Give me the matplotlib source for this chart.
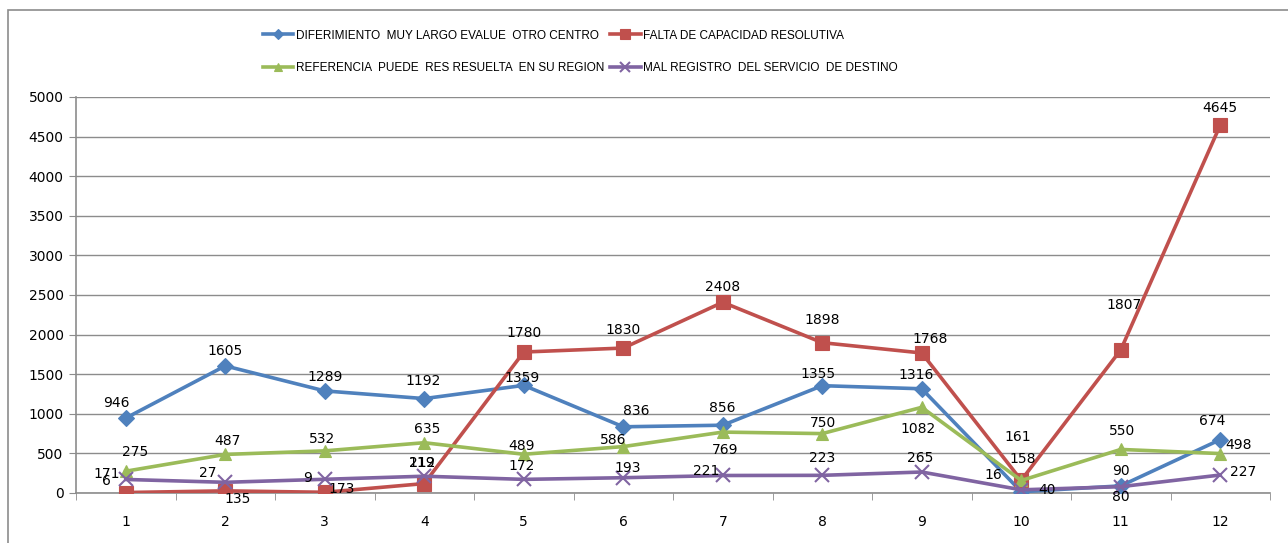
import numpy as np
import matplotlib
matplotlib.use('Agg')
import matplotlib.pyplot as plt
from matplotlib.patches import Rectangle

months = list(range(1, 13))

diferimiento = [946, 1605, 1289, 1192, 1359, 836, 856, 1355, 1316, 16, 90, 674]
falta_capacidad = [6, 27, 9, 119, 1780, 1830, 2408, 1898, 1768, 161, 1807, 4645]
referencia = [275, 487, 532, 635, 489, 586, 769, 750, 1082, 158, 550, 498]
mal_registro = [171, 135, 173, 212, 172, 193, 221, 223, 265, 40, 80, 227]

names = ['DIFERIMIENTO  MUY LARGO EVALUE  OTRO CENTRO',
         'FALTA DE CAPACIDAD RESOLUTIVA',
         'REFERENCIA  PUEDE  RES RESUELTA  EN SU REGION',
         'MAL REGISTRO  DEL SERVICIO  DE DESTINO']

# label offsets in pixels (dx, dy up)
offs = {
    0: [(-9, 15), (0, 15), (0, 14), (-1, 18), (-2, 7), (13, 16), (0, 17), (-4, 12), (-6, 14), (-28, 17), (0, 15), (-8, 19)],
    1: [(-19, 12), (-17, 18), (-17, 14), (-2, 21), (0, 19), (0, 18), (0, 15), (0, 23), (8, 14), (-3, 43), (3, 45), (0, 17)],
    2: [(9, 19), (2, 13), (-3, 12), (3, 14), (-2, 8), (-10, 7), (2, -18), (1, 11), (-4, -22), (1, 21), (1, 18), (18, 9)],
    3: [(-19, 5), (12, -17), (17, -10), (-2, 13), (-2, 13), (4, 10), (-17, 4), (0, 17), (-2, 14), (26, 0), (0, -10), (23, 3)],
}

colors = ['#4F81BD', '#C0504D', '#9BBB59', '#8064A2']
markers = ['D', 's', '^', 'x']
msizes = [8, 10, 9, 10]

fig = plt.figure(figsize=(12.88, 5.43), dpi=100)
ax = fig.add_axes([76 / 1288, 50 / 543, 1194 / 1288, 396 / 543])

fig.patches.append(Rectangle((8 / 1288, -0.1), 1.2, 0.1 + 533 / 543, transform=fig.transFigure,
                             fill=False, edgecolor='#8c8c8c', linewidth=1.2))

series = [diferimiento, falta_capacidad, referencia, mal_registro]
lines = []
for k, vals in enumerate(series):
    ln, = ax.plot(months, vals, color=colors[k], lw=2.6, marker=markers[k], ms=msizes[k],
                  mew=1.5 if markers[k] == 'x' else 0.8, mec=colors[k], label=names[k], zorder=3)
    lines.append(ln)
    for i, v in enumerate(vals):
        dx, dy = offs[k][i]
        ax.annotate(str(v), (months[i], v), xytext=(dx, dy), textcoords='offset pixels',
                    ha='center', va='center', fontsize=10, color='black', zorder=4)

ax.set_xlim(0.5, 12.5)
ax.set_ylim(0, 5000)
ax.set_yticks(np.arange(0, 5001, 500))
ax.set_xticks(months)
ax.set_xticks(np.arange(0.5, 12.6, 1), minor=True)
ax.tick_params(axis='x', which='major', length=0, pad=16, labelsize=10)
ax.tick_params(axis='x', which='minor', length=5, color='#8c8c8c')
ax.tick_params(axis='y', length=5, color='#8c8c8c', labelsize=10, pad=4)
ax.grid(axis='y', color='#8c8c8c', lw=1)
ax.set_axisbelow(True)
for s in ['top', 'right']:
    ax.spines[s].set_visible(False)
for s in ['left', 'bottom']:
    ax.spines[s].set_color('#8c8c8c')
    ax.spines[s].set_linewidth(1.2)

order = [0, 2, 1, 3]
fig.legend([lines[i] for i in order], [names[i] for i in order], ncol=2, frameon=False,
           loc='upper left', bbox_to_anchor=(252 / 1288, 1 - 19 / 543),
           prop={'family': ['Liberation Sans Narrow', 'Liberation Sans', 'DejaVu Sans'], 'size': 8.5},
           handlelength=2.6, handletextpad=0.2, columnspacing=0.5, labelspacing=1.7,
           markerscale=0.7)

fig.savefig('out.png', dpi=100)
